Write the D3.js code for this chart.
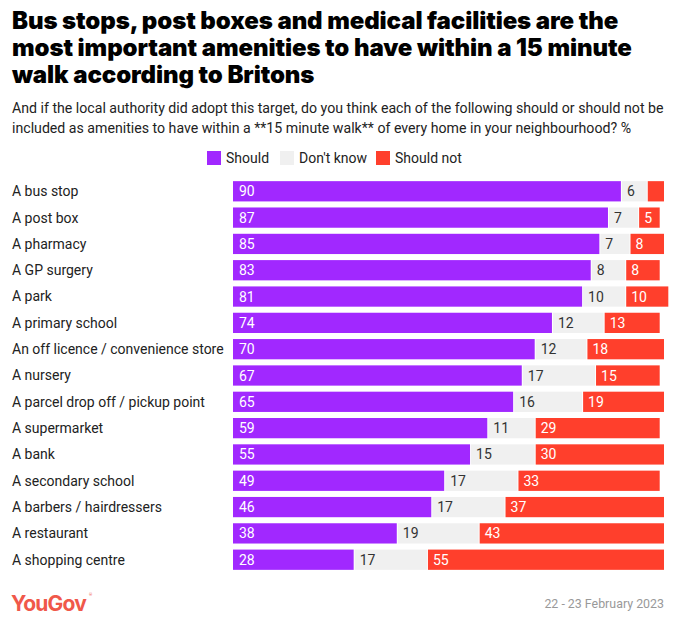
<!DOCTYPE html>
<html>
<head>
<meta charset="utf-8">
<script src="https://cdn.jsdelivr.net/npm/d3@7/dist/d3.min.js"></script>
<style>
  body { margin: 0; background: #fff; }
  svg { display: block; }
</style>
</head>
<body>
<svg id="chart" width="680" height="625"></svg>
<script>
const categories = [
  "A bus stop", "A post box", "A pharmacy", "A GP surgery", "A park",
  "A primary school", "An off licence / convenience store", "A nursery",
  "A parcel drop off / pickup point", "A supermarket", "A bank",
  "A secondary school", "A barbers / hairdressers", "A restaurant", "A shopping centre"
];
const should    = [90, 87, 85, 83, 81, 74, 70, 67, 65, 59, 55, 49, 46, 38, 28];
const dontKnow  = [6, 7, 7, 8, 10, 12, 12, 17, 16, 11, 15, 17, 17, 19, 17];
const shouldNot = [4, 5, 8, 8, 10, 13, 18, 15, 19, 29, 30, 33, 37, 43, 55];
const seriesNames = ["Should", "Don't know", "Should not"];
const seriesColors = ["#a128ff", "#f0f0f0", "#ff3f2c"];
const labelColors = ["#ffffff", "#333333", "#ffffff"];
const titleLines = [
  "Bus stops, post boxes and medical facilities are the",
  "most important amenities to have within a 15 minute",
  "walk according to Britons"
];
const subtitleLines = [
  "And if the local authority did adopt this target, do you think each of the following should or should not be",
  "included as amenities to have within a **15 minute walk** of every home in your neighbourhood? %"
];
const dateText = "22 - 23 February 2023";

const svg = d3.select("#chart");
const font = "Roboto, 'Liberation Sans', sans-serif";

// Title
svg.append("g").selectAll("text").data(titleLines).join("text")
  .attr("x", 12).attr("y", (d, i) => 29 + i * 27)
  .attr("font-family", "Inter, Roboto, sans-serif")
  .attr("font-weight", 900).attr("font-size", 24)
  .attr("letter-spacing", -0.1)
  .attr("fill", "#000").text(d => d);

// Subtitle
svg.append("g").selectAll("text").data(subtitleLines).join("text")
  .attr("x", 12).attr("y", (d, i) => 113 + i * 20)
  .attr("font-family", font).attr("font-size", 14.15)
  .attr("fill", "#222").text(d => d);

// Legend
const legendX = [207, 280, 376];
const lg = svg.append("g").selectAll("g").data(seriesNames).join("g")
  .attr("transform", (d, i) => `translate(${legendX[i]},151)`);
lg.append("rect").attr("width", 14).attr("height", 14)
  .attr("fill", (d, i) => seriesColors[i]);
lg.append("text").attr("x", 19).attr("y", 12)
  .attr("font-family", font).attr("font-size", 14).attr("fill", "#222")
  .text(d => d);

// Scales
const x = d3.scaleLinear().domain([0, 100]).range([233, 664]);
const y = d3.scaleBand().domain(categories).range([178, 573]).paddingInner(0.23).paddingOuter(0.12);

const rows = categories.map((c, i) => {
  const vals = [should[i], dontKnow[i], shouldNot[i]];
  let acc = 0;
  return { cat: c, segs: vals.map((v, k) => { const s = { k, v, x0: acc, x1: acc + v }; acc += v; return s; }) };
});

// Category labels
svg.append("g").selectAll("text").data(categories).join("text")
  .attr("x", 12).attr("y", d => y(d) + y.bandwidth() / 2)
  .attr("dy", "0.35em")
  .attr("font-family", font).attr("font-size", 14).attr("fill", "#222")
  .text(d => d);

const rg = svg.append("g").selectAll("g").data(rows).join("g")
  .attr("transform", d => `translate(0,${y(d.cat)})`);

rg.selectAll("rect").data(d => d.segs).join("rect")
  .attr("x", d => x(d.x0) + (d.k > 0 ? 1 : 0))
  .attr("width", d => Math.max(0, x(d.x1) - x(d.x0) - (d.k > 0 ? 1 : 0)))
  .attr("y", 0).attr("height", y.bandwidth())
  .attr("fill", d => seriesColors[d.k]);

rg.selectAll("text").data(d => d.segs.filter(s => s.v >= 5)).join("text")
  .attr("x", d => x(d.x0) + 6)
  .attr("y", y.bandwidth() / 2).attr("dy", "0.36em")
  .attr("font-family", font).attr("font-size", 14)
  .attr("fill", d => labelColors[d.k])
  .text(d => d.v);

// Footer
svg.append("text").attr("x", 11).attr("y", 611)
  .attr("font-family", "Inter, Roboto, sans-serif").attr("font-weight", 700)
  .attr("font-size", 21).attr("letter-spacing", -0.8)
  .attr("fill", "#f0584a").text("YouGov");
svg.append("text").attr("x", 89).attr("y", 596)
  .attr("font-family", font).attr("font-size", 4).attr("fill", "#f0584a").text("®");

svg.append("text").attr("x", 664).attr("y", 608)
  .attr("text-anchor", "end")
  .attr("font-family", font).attr("font-size", 12.4).attr("fill", "#999")
  .text(dateText);
</script>
</body>
</html>
